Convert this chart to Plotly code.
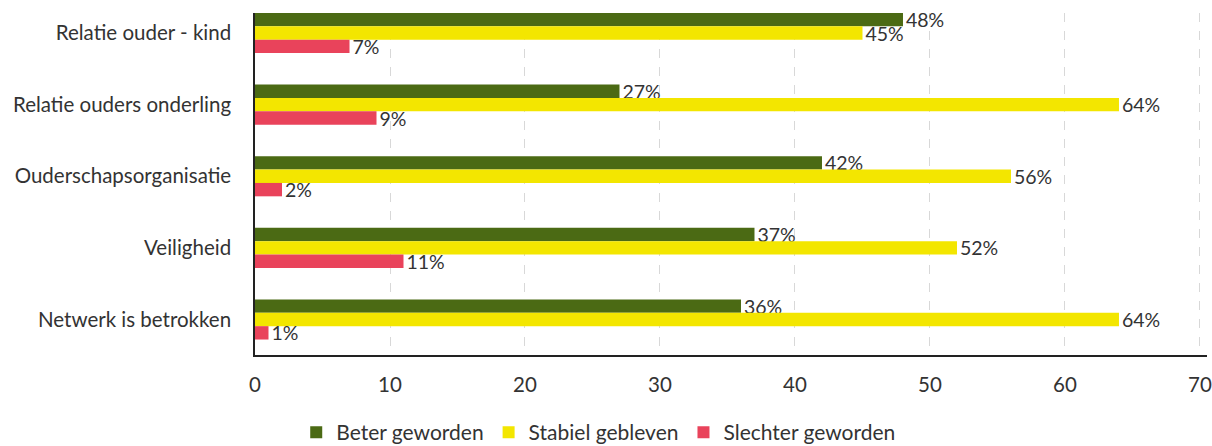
import plotly.graph_objects as go

categories = ["Relatie ouder - kind", "Relatie ouders onderling", "Ouderschapsorganisatie",
              "Veiligheid", "Netwerk is betrokken"]
beter = [48, 27, 42, 37, 36]
stabiel = [45, 64, 56, 52, 64]
slechter = [7, 9, 2, 11, 1]
series_names = ["Beter geworden", "Stabiel gebleven", "Slechter geworden"]
colors = ["#4b6a14", "#f3e600", "#e9435b"]
x_ticks = [0, 10, 20, 30, 40, 50, 60, 70]

FONT = "Lato"

fig = go.Figure()
for name, vals, col in zip(series_names, [beter, stabiel, slechter], colors):
    fig.add_trace(go.Bar(
        y=categories, x=vals, name=name, orientation="h",
        marker=dict(color=col, line=dict(width=0)),
        text=[f"{v}%" for v in vals], textposition="outside",
        constraintext="none",
        textfont=dict(size=19.5, color="#333333", family=FONT),
        cliponaxis=False,
    ))

fig.update_layout(
    width=1212, height=446,
    margin=dict(l=255, r=5, t=13, b=91, autoexpand=False),
    paper_bgcolor="white", plot_bgcolor="white",
    barmode="group", bargap=0.44, bargroupgap=0,
    font=dict(family=FONT, size=20.5, color="#333333"),
    showlegend=True,
    legend=dict(orientation="h", xref="container", x=0.494, xanchor="center",
                yref="container", y=0.03, yanchor="middle",
                font=dict(size=21, color="#333333"), traceorder="normal",
                itemwidth=30),
    xaxis=dict(range=[0, 70.52], tickvals=x_ticks, ticktext=[str(t) for t in x_ticks],
               showgrid=True, gridcolor="#d8d8d8", griddash="dash", gridwidth=1,
               zeroline=False, showline=True, linecolor="#222222", linewidth=2,
               ticks="", ticklabelstandoff=10, tickfont=dict(size=20.5), automargin=False),
    yaxis=dict(range=[4.496, -0.28], showgrid=False, zeroline=False,
               showline=True, linecolor="#222222", linewidth=1.5,
               ticks="", ticklabelstandoff=18, tickfont=dict(size=20.5), automargin=False),
)

fig.write_html("out.html", config={"displayModeBar": False},
               post_script="document.body.style.margin='0';document.body.style.overflow='hidden';")
